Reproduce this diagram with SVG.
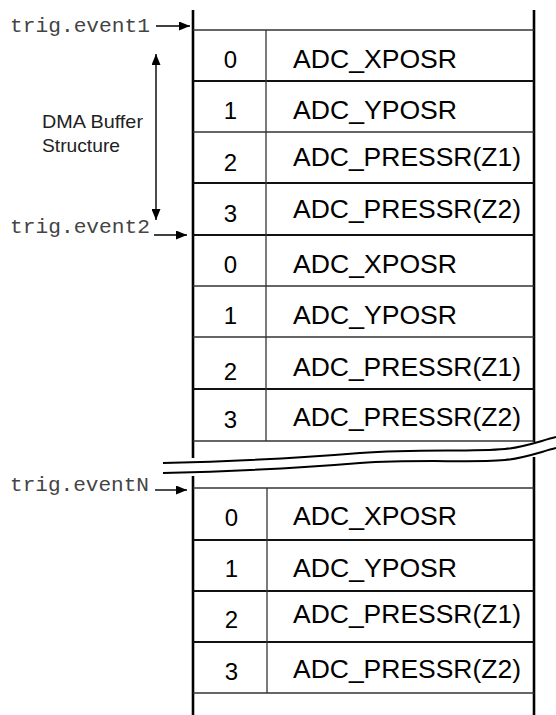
<svg xmlns="http://www.w3.org/2000/svg" width="556" height="715" viewBox="0 0 556 715">
<defs>
<marker id="ah" markerUnits="userSpaceOnUse" markerWidth="12" markerHeight="9" refX="11" refY="4.5" orient="auto-start-reverse">
<path d="M0,0 L11,4.5 L0,9 Z" fill="#000"/>
</marker>
</defs>
<style>
.lbl{font-family:"Liberation Sans",Arial,Helvetica,sans-serif;font-size:25px;fill:#000}
.num{font-family:"Liberation Sans",Arial,Helvetica,sans-serif;font-size:24px;fill:#000;text-anchor:middle}
.mono{font-family:"Liberation Mono","Courier New",monospace;font-size:21px;fill:#444}
.side{font-family:"Liberation Sans",Arial,sans-serif;font-size:19px;fill:#222}
.bar{stroke:#000;stroke-width:2.6;fill:none}
.thin{stroke:#333;stroke-width:1.3;fill:none}
.thick{stroke:#111;stroke-width:2.2;fill:none}
.conn{stroke:#000;stroke-width:1.4;fill:none;marker-end:url(#ah)}
.wave{stroke:#000;stroke-width:2;fill:none}
</style>
<rect width="556" height="715" fill="#fff"/>

<g id="frame">
<line class="bar" x1="193" y1="10" x2="193" y2="458"/>
<line class="bar" x1="193" y1="476" x2="193" y2="715"/>
<line class="bar" x1="534" y1="10" x2="534" y2="442"/>
<line class="bar" x1="534" y1="457" x2="534" y2="715"/>
<line class="thin" x1="193" y1="30" x2="534" y2="30"/>
<line class="thick" x1="193" y1="81" x2="534" y2="81"/>
<line class="thin" x1="193" y1="132" x2="534" y2="132"/>
<line class="thick" x1="193" y1="183" x2="534" y2="183"/>
<line class="thick" x1="193" y1="235" x2="534" y2="235"/>
<line class="thin" x1="193" y1="286" x2="534" y2="286"/>
<line class="thin" x1="193" y1="337" x2="534" y2="337"/>
<line class="thick" x1="193" y1="389" x2="534" y2="389"/>
<line class="thin" x1="193" y1="441" x2="534" y2="441"/>
<line class="thin" x1="266" y1="30" x2="266" y2="441"/>
<line class="thin" x1="193" y1="488" x2="534" y2="488"/>
<line class="thick" x1="193" y1="540" x2="534" y2="540"/>
<line class="thick" x1="193" y1="591" x2="534" y2="591"/>
<line class="thick" x1="193" y1="642" x2="534" y2="642"/>
<line class="thin" x1="193" y1="693" x2="534" y2="693"/>
<line class="thin" x1="267" y1="488" x2="267" y2="693"/>
</g>

<g id="break">
<path class="wave" d="M163,463 C250,461 300,458 360,453 C420,449 470,452 505,449 C525,447 540,441 556,437"/>
<path class="wave" d="M163,473 C250,471 300,468 360,463 C420,459 470,463 505,460 C525,458 540,452 556,448"/>
</g>

<g id="g1r0"><text class="num" x="230.5" y="68">0</text><text class="lbl" x="293" y="68" textLength="164" lengthAdjust="spacingAndGlyphs">ADC_XPOSR</text></g>
<g id="g1r1"><text class="num" x="230.5" y="119">1</text><text class="lbl" x="293" y="119" textLength="164" lengthAdjust="spacingAndGlyphs">ADC_YPOSR</text></g>
<g id="g1r2"><text class="num" x="230.5" y="171">2</text><text class="lbl" x="293" y="166" textLength="228" lengthAdjust="spacingAndGlyphs">ADC_PRESSR(Z1)</text></g>
<g id="g1r3"><text class="num" x="230.5" y="222">3</text><text class="lbl" x="293" y="218" textLength="228" lengthAdjust="spacingAndGlyphs">ADC_PRESSR(Z2)</text></g>

<g id="g2r0"><text class="num" x="230.5" y="273">0</text><text class="lbl" x="293" y="273" textLength="164" lengthAdjust="spacingAndGlyphs">ADC_XPOSR</text></g>
<g id="g2r1"><text class="num" x="230.5" y="324">1</text><text class="lbl" x="293" y="324" textLength="164" lengthAdjust="spacingAndGlyphs">ADC_YPOSR</text></g>
<g id="g2r2"><text class="num" x="230.5" y="380">2</text><text class="lbl" x="293" y="376" textLength="228" lengthAdjust="spacingAndGlyphs">ADC_PRESSR(Z1)</text></g>
<g id="g2r3"><text class="num" x="230.5" y="428">3</text><text class="lbl" x="293" y="426" textLength="228" lengthAdjust="spacingAndGlyphs">ADC_PRESSR(Z2)</text></g>

<g id="g3r0"><text class="num" x="231.5" y="526">0</text><text class="lbl" x="293" y="525" textLength="164" lengthAdjust="spacingAndGlyphs">ADC_XPOSR</text></g>
<g id="g3r1"><text class="num" x="231.5" y="577">1</text><text class="lbl" x="293" y="577" textLength="164" lengthAdjust="spacingAndGlyphs">ADC_YPOSR</text></g>
<g id="g3r2"><text class="num" x="231.5" y="628">2</text><text class="lbl" x="293" y="623" textLength="228" lengthAdjust="spacingAndGlyphs">ADC_PRESSR(Z1)</text></g>
<g id="g3r3"><text class="num" x="231.5" y="680">3</text><text class="lbl" x="293" y="678" textLength="228" lengthAdjust="spacingAndGlyphs">ADC_PRESSR(Z2)</text></g>

<g id="trig1"><text class="mono" x="10" y="32" textLength="140" lengthAdjust="spacingAndGlyphs">trig.event1</text></g>
<g id="trig2"><text class="mono" x="10" y="233" textLength="140" lengthAdjust="spacingAndGlyphs">trig.event2</text></g>
<g id="trigN"><text class="mono" x="10" y="491" textLength="139" lengthAdjust="spacingAndGlyphs">trig.eventN</text></g>
<g id="dma"><text class="side" x="42" y="128" textLength="101" lengthAdjust="spacingAndGlyphs">DMA Buffer</text><text class="side" x="42" y="152" textLength="78" lengthAdjust="spacingAndGlyphs">Structure</text></g>

<g id="connectors">
<line class="conn" x1="156" y1="26" x2="190" y2="26"/>
<line class="conn" x1="154" y1="235" x2="187" y2="235"/>
<line class="conn" x1="155" y1="490" x2="187" y2="490"/>
<line class="conn" x1="156" y1="54" x2="156" y2="220" style="marker-start:url(#ah)"/>
</g>
</svg>
